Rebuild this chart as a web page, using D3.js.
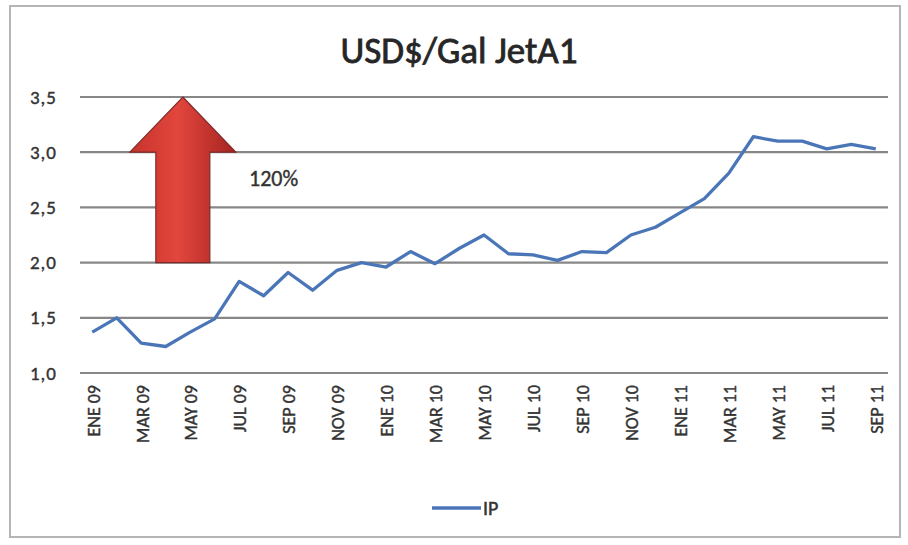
<!DOCTYPE html>
<html>
<head>
<meta charset="utf-8">
<script src="https://cdn.jsdelivr.net/npm/d3@7"></script>
<style>
  body { margin: 0; background: #fff; }
  text { font-family: Calibri, Carlito, Lato, sans-serif; fill: #333; }
</style>
</head>
<body>
<svg width="908" height="545"></svg>
<script>
// months Jan 2009 .. Sep 2011
var months = ['ENE 09','FEB 09','MAR 09','ABR 09','MAY 09','JUN 09','JUL 09','AGO 09','SEP 09','OCT 09','NOV 09','DIC 09',
              'ENE 10','FEB 10','MAR 10','ABR 10','MAY 10','JUN 10','JUL 10','AGO 10','SEP 10','OCT 10','NOV 10','DIC 10',
              'ENE 11','FEB 11','MAR 11','ABR 11','MAY 11','JUN 11','JUL 11','AGO 11','SEP 11'];
var ipValues = [1.37,1.50,1.27,1.24,1.37,1.49,1.83,1.70,1.91,1.75,1.93,2.00,
                1.96,2.10,1.99,2.13,2.25,2.08,2.07,2.02,2.10,2.09,2.25,2.32,
                2.45,2.58,2.81,3.14,3.10,3.10,3.03,3.07,3.03];
var yTicks = [1.0,1.5,2.0,2.5,3.0,3.5];
var seriesName = 'IP';
var titleText = 'USD$/Gal JetA1';
var arrowLabel = '120%';

var svg = d3.select('svg');

// chart frame
svg.append('rect')
    .attr('x', 10).attr('y', 6)
    .attr('width', 890).attr('height', 531)
    .attr('fill', '#fff')
    .attr('stroke', '#b5b5b5')
    .attr('stroke-width', 2);

var ScaleX = d3.scaleBand().domain(months).range([80, 888]);
var ScaleY = d3.scaleLinear().domain([1, 3.5]).range([373, 97]);
// continuous index scale for the arrow annotation
var ScaleI = d3.scaleLinear().domain([0, months.length]).range([80, 888]);

svg.append('text')
    .attr('x', 459).attr('y', 63)
    .attr('text-anchor', 'middle')
    .style('font-size', '37px')
    .style('fill', '#262626')
    .style('stroke', '#262626')
    .style('stroke-width', '0.8px')
    .text(titleText);

// gridlines
svg.append('g').selectAll('line')
    .data(yTicks)
    .enter()
    .append('line')
    .attr('x1', 80).attr('x2', 888)
    .attr('y1', function(d){ return ScaleY(d); })
    .attr('y2', function(d){ return ScaleY(d); })
    .attr('stroke', '#878787')
    .attr('stroke-width', 2.2);

var yAxis = svg.append('g')
    .attr('transform', 'translate(80,0)')
    .call(d3.axisLeft(ScaleY).tickValues(yTicks).tickSize(0).tickPadding(23)
        .tickFormat(function(d){ return d3.format('.1f')(d).replace('.', ','); }));
yAxis.select('.domain').remove();
yAxis.selectAll('text')
    .style('font-size', '19px')
    .style('letter-spacing', '1px')
    .style('stroke', '#333')
    .style('stroke-width', '0.4px')
    .attr('fill', '#333');

var xAxis = svg.append('g')
    .attr('transform', 'translate(0,373)')
    .call(d3.axisBottom(ScaleX).tickValues(months.filter(function(d, i){ return i % 2 == 0; })).tickSize(0));
xAxis.select('.domain').remove();
xAxis.selectAll('text')
    .attr('transform', 'rotate(-90)')
    .attr('x', -12).attr('y', 1).attr('dy', '0.35em')
    .attr('text-anchor', 'end')
    .style('font-size', '18px')
    .style('stroke', '#333')
    .style('stroke-width', '0.4px')
    .attr('fill', '#333');

// arrow annotation
var defs = svg.append('defs');
var grad = defs.append('linearGradient').attr('id', 'arrowGrad')
    .attr('x1', '0%').attr('x2', '100%').attr('y1', '0%').attr('y2', '0%');
grad.append('stop').attr('offset', '0%').attr('stop-color', '#c6332c');
grad.append('stop').attr('offset', '45%').attr('stop-color', '#e2463c');
grad.append('stop').attr('offset', '100%').attr('stop-color', '#a52421');

var ax = ScaleI(4.2), headW = 53, shaftW = 27;
var tipY = ScaleY(3.5), baseY = ScaleY(3.0), bottomY = ScaleY(2.0);
var arrowPts = [[ax, tipY], [ax + headW, baseY], [ax + shaftW, baseY], [ax + shaftW, bottomY],
                [ax - shaftW, bottomY], [ax - shaftW, baseY], [ax - headW, baseY]];
svg.append('path')
    .attr('d', d3.line()(arrowPts) + 'Z')
    .attr('fill', 'url(#arrowGrad)')
    .attr('stroke', '#7d2a2a')
    .attr('stroke-width', 1.2);

svg.append('text')
    .attr('x', 249).attr('y', 186)
    .style('font-size', '22px')
    .style('stroke', '#333')
    .style('stroke-width', '0.4px')
    .text(arrowLabel);

// series line
var line = d3.line()
    .x(function(d, i){ return ScaleX(months[i]) + ScaleX.bandwidth() / 2; })
    .y(function(d){ return ScaleY(d); });

svg.append('path')
    .datum(ipValues)
    .attr('d', line)
    .attr('fill', 'none')
    .attr('stroke', '#4a76b8')
    .attr('stroke-width', 3.3)
    .attr('stroke-linejoin', 'round');

// legend
svg.append('line')
    .attr('x1', 432).attr('x2', 481)
    .attr('y1', 508).attr('y2', 508)
    .attr('stroke', '#4a76b8')
    .attr('stroke-width', 3.3);
svg.append('text')
    .attr('x', 483).attr('y', 515)
    .style('font-size', '20px')
    .style('stroke', '#333')
    .style('stroke-width', '0.5px')
    .text(seriesName);
</script>
</body>
</html>
